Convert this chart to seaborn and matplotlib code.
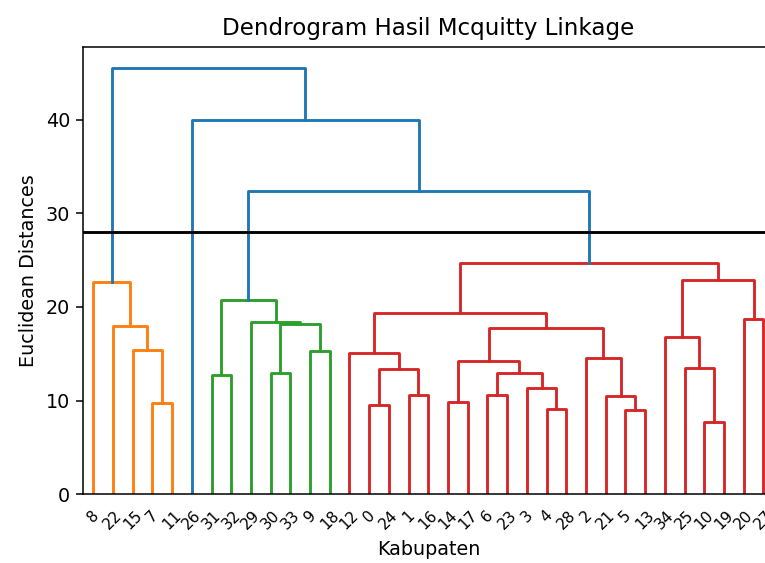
import numpy as np
import pandas as pd
import matplotlib
matplotlib.use("Agg")
from matplotlib import pyplot as plt
import seaborn as sns

# 35 kabupaten (leaves 0..34); merge k creates node 35+k from left_child[k] and right_child[k]
n_leaves = 35
left_child = [10, 4, 5, 0, 7, 14, 21, 1, 6, 3, 31, 30, 43, 38, 25, 40, 2,
              12, 9, 15, 34, 50, 22, 46, 29, 20, 52, 45, 8, 55, 61, 62, 26, 63]
right_child = [19, 28, 13, 24, 11, 17, 37, 16, 23, 36, 32, 33, 44, 42, 35, 47, 41,
               48, 18, 39, 49, 51, 54, 53, 58, 27, 56, 59, 57, 60, 64, 65, 66, 67]
merge_height = [7.7, 9.1, 9.0, 9.5, 9.8, 9.9, 10.5, 10.6, 10.6, 11.4, 12.7, 13.0,
                13.0, 13.4, 13.5, 14.2, 14.6, 15.1, 15.3, 15.4, 16.8, 17.7, 18.0,
                18.2, 18.4, 18.7, 19.3, 20.7, 22.7, 22.9, 24.7, 32.4, 40.0, 45.5]
cut_height = 28

cluster_colors = ['#ff7f0e', '#2ca02c', '#d62728', '#9467bd', '#8c564b']
above_color = '#1f77b4'


def layout(node, order, links):
    '''
    walk the tree left to right, return top position of node
    '''
    if node < n_leaves:
        x = 5 + 10 * len(order)
        order.append(node)
        return x, 0.0
    k = node - n_leaves
    xl, yl = layout(left_child[k], order, links)
    xr, yr = layout(right_child[k], order, links)
    h = merge_height[k]
    links[k] = ([xl, xl, xr, xr], [yl, h, h, yr])
    return (xl + xr) / 2, h


def color_links(node, color, threshold, link_color, counter):
    if node < n_leaves:
        return
    k = node - n_leaves
    if color is None and merge_height[k] < threshold:
        color = cluster_colors[counter[0] % len(cluster_colors)]
        counter[0] += 1
    link_color[k] = color if color is not None else above_color
    color_links(left_child[k], color, threshold, link_color, counter)
    color_links(right_child[k], color, threshold, link_color, counter)


root = n_leaves + len(merge_height) - 1
order, links = [], {}
layout(root, order, links)
threshold = 0.7 * max(merge_height)
link_color = {}
color_links(root, None, threshold, link_color, [0])

rows = []
for k, (xs, ys) in links.items():
    for x, y in zip(xs, ys):
        rows.append({'link': k, 'x': x, 'y': y, 'color': link_color[k]})
df = pd.DataFrame(rows)

fig = plt.figure(figsize=(765 / 138, 563 / 138), dpi=138)
ax = fig.add_axes([0.1090, 0.1220, 0.9018, 0.7950])

sns.lineplot(data=df, x='x', y='y', units='link', hue='color',
             palette={c: c for c in df['color'].unique()},
             estimator=None, sort=False, legend=False, linewidth=1.5, ax=ax)
ax.axhline(y=cut_height, color='black', linewidth=1.5)

ax.set_xlim(0, 10 * n_leaves)
ax.set_ylim(0, max(merge_height) * 1.05)
ax.set_xticks([5 + 10 * i for i in range(n_leaves)])
ax.set_xticklabels([str(v) for v in order], rotation=45, size=8)
for line in ax.get_xticklines():
    line.set_visible(False)

ax.set_title('Dendrogram Hasil Mcquitty Linkage')
ax.set_xlabel('Kabupaten')
ax.set_ylabel('Euclidean Distances')

plt.savefig('out.png', dpi=138)
